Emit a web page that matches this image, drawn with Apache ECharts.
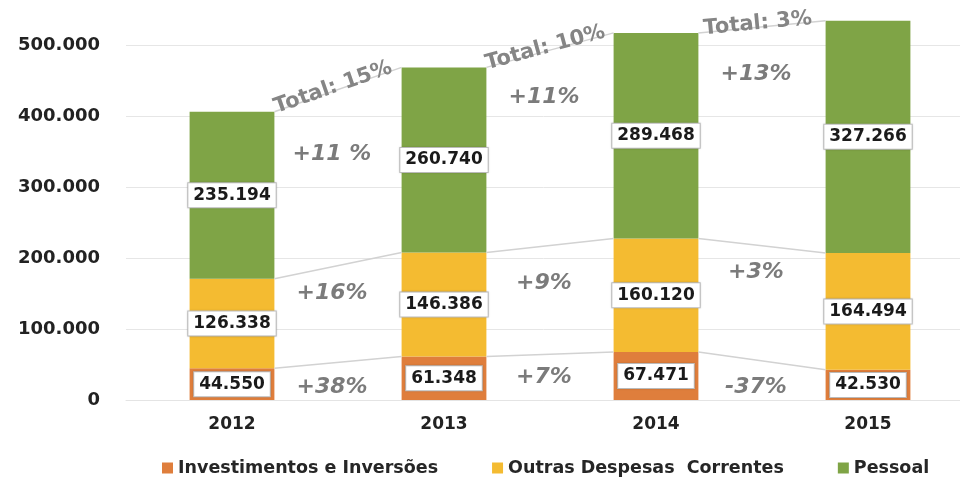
<!DOCTYPE html>
<html>
<head>
<meta charset="utf-8">
<script src="https://cdn.jsdelivr.net/npm/echarts@6/dist/echarts.min.js"></script>
<style>
  html, body { margin: 0; padding: 0; background: #fff; }
  #chart { width: 960px; height: 478px; }
</style>
</head>
<body>
<div id="chart"></div>
<script>
// Dados
const years = ['2012', '2013', '2014', '2015'];
const investimentos = [44550, 61348, 67471, 42530];
const outrasDespesas = [126338, 146386, 160120, 164494];
const pessoal = [235194, 260740, 289468, 327266];

// Variações entre anos
const growthInvest = ['+38%', '+7%', '-37%'];
const growthOutras = ['+16%', '+9%', '+3%'];
const growthPessoal = ['+11 %', '+11%', '+13%'];
const growthTotal = ['Total: 15%', 'Total: 10%', 'Total: 3%'];

// Altura (em unidades do eixo) onde ficam os textos de variação
const investLabelY = [18000, 32000, 18000];
const outrasLabelY = [151000, 165000, 180000];
const pessoalLabelY = [346000, 427000, 459000];

const fmt = v => String(v).replace(/\B(?=(\d{3})+(?!\d))/g, '.');

const FONT = 'DejaVu Sans';
const BAR_RATIO = 0.4;

const level1 = investimentos;
const level2 = investimentos.map((v, i) => v + outrasDespesas[i]);
const level3 = level2.map((v, i) => v + pessoal[i]);

const chart = echarts.init(document.getElementById('chart'));

const barLabel = {
  show: true,
  position: 'inside',
  formatter: p => fmt(p.value),
  backgroundColor: '#fff',
  borderColor: '#c4c4c4',
  borderWidth: 1,
  padding: [4, 5, 3, 5],
  fontFamily: FONT,
  fontSize: 17,
  fontWeight: 'bold',
  color: '#1a1a1a',
  shadowColor: 'rgba(0,0,0,0.15)',
  shadowBlur: 2
};

function growthText(x, y, text) {
  return {
    type: 'text',
    x: x,
    y: y,
    style: {
      text: text,
      align: 'center',
      verticalAlign: 'middle',
      font: 'italic bold 22px "' + FONT + '"',
      fill: '#7b7b7b',
      shadowColor: 'rgba(140,165,200,0.7)',
      shadowBlur: 1,
      shadowOffsetX: 1,
      shadowOffsetY: 1
    }
  };
}

function renderConnectors(params, api) {
  const i = params.dataIndex;
  const half = api.size([1, 0])[0] * BAR_RATIO / 2;
  const children = [];
  [level1, level2, level3].forEach(lv => {
    const a = api.coord([i, lv[i]]);
    const b = api.coord([i + 1, lv[i + 1]]);
    children.push({
      type: 'line',
      shape: { x1: a[0] + half, y1: a[1], x2: b[0] - half, y2: b[1] },
      style: { stroke: '#d2d2d2', lineWidth: 1.5 }
    });
  });

  const c0 = api.coord([i, 0]);
  const c1 = api.coord([i + 1, 0]);
  const midX = (c0[0] + c1[0]) / 2 - 6;
  children.push(growthText(midX, api.coord([i, investLabelY[i]])[1], growthInvest[i]));
  children.push(growthText(midX, api.coord([i, outrasLabelY[i]])[1], growthOutras[i]));
  children.push(growthText(midX, api.coord([i, pessoalLabelY[i]])[1], growthPessoal[i]));

  // Texto "Total" alinhado com a linha superior
  const t1 = api.coord([i, level3[i]]);
  const t2 = api.coord([i + 1, level3[i + 1]]);
  const x1 = t1[0] + half, x2 = t2[0] - half;
  const angle = Math.atan2(t1[1] - t2[1], x2 - x1);
  children.push({
    type: 'text',
    x: (x1 + x2) / 2,
    y: (t1[1] + t2[1]) / 2,
    rotation: angle,
    style: {
      text: growthTotal[i],
      x: -4,
      y: 7,
      align: 'center',
      verticalAlign: 'bottom',
      font: 'bold 21px "' + FONT + '"',
      fill: '#858585'
    }
  });
  return { type: 'group', children: children };
}

const option = {
  animation: false,
  grid: { left: 126, width: 848, top: 45, bottom: 78, outerBoundsMode: 'none', containLabel: false },
  legend: {
    left: 157,
    top: 454,
    icon: 'rect',
    itemWidth: 11,
    itemHeight: 11,
    itemGap: 54,
    textStyle: { fontFamily: FONT, fontSize: 17.5, fontWeight: 'bold', color: '#262626' },
    data: ['Investimentos e Inversões', 'Outras Despesas  Correntes', 'Pessoal']
  },
  xAxis: {
    type: 'category',
    data: years,
    axisTick: { show: false },
    axisLine: { lineStyle: { color: '#e4e4e4' } },
    axisLabel: { margin: 16, fontFamily: FONT, fontSize: 17, fontWeight: 'bold', color: '#222' }
  },
  yAxis: {
    type: 'value',
    min: 0,
    max: 500000,
    interval: 100000,
    axisLine: { show: false },
    axisTick: { show: false },
    splitLine: { lineStyle: { color: '#e6e6e6', width: 1 } },
    axisLabel: {
      margin: 26,
      formatter: v => fmt(v),
      fontFamily: FONT, fontSize: 18, fontWeight: 'bold', color: '#222'
    }
  },
  series: [
    {
      name: 'Investimentos e Inversões',
      type: 'bar',
      stack: 'total',
      barWidth: (BAR_RATIO * 100) + '%',
      clip: false,
      itemStyle: { color: '#df7e3c' },
      label: barLabel,
      data: investimentos
    },
    {
      name: 'Outras Despesas  Correntes',
      type: 'bar',
      stack: 'total',
      clip: false,
      itemStyle: { color: '#f4bb31' },
      label: barLabel,
      data: outrasDespesas
    },
    {
      name: 'Pessoal',
      type: 'bar',
      stack: 'total',
      clip: false,
      itemStyle: { color: '#7fa446' },
      label: barLabel,
      data: pessoal
    },
    {
      type: 'custom',
      silent: true,
      clip: false,
      z: 5,
      renderItem: renderConnectors,
      encode: { x: 0, y: 1 },
      data: years.slice(0, 3).map((y, i) => [i, 0])
    }
  ]
};

chart.setOption(option);
</script>
</body>
</html>
